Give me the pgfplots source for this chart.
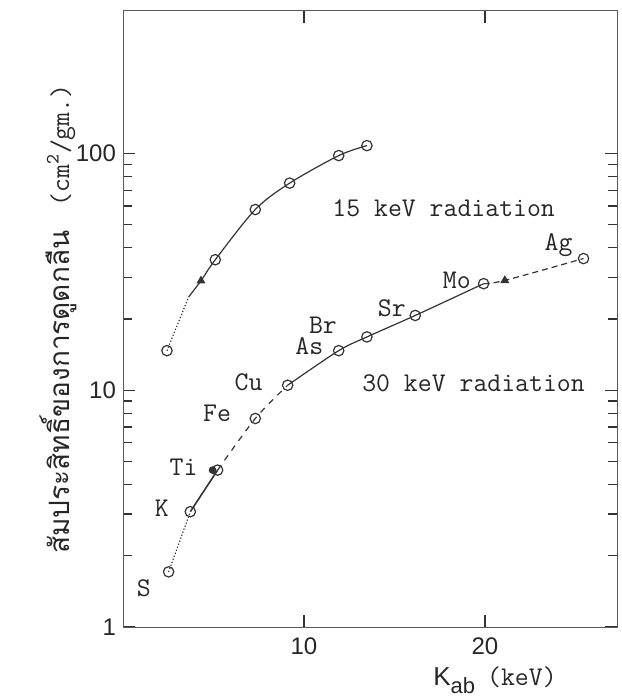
\documentclass[border=0pt]{standalone}
\usepackage{pgfplots}
\pgfplotsset{compat=1.18}
\usepackage{fontspec}
\setsansfont{Liberation Sans}
\newfontfamily\thaifont[Script=Thai]{Loma}
\newcommand\lbl{\ttfamily\fontsize{13.5}{14}\selectfont}

\begin{document}
\begin{tikzpicture}
\begin{axis}[
    scale only axis,
    width=247pt, height=308pt,
    ymode=log,
    xmin=0, xmax=27.3, ymin=1, ymax=400,
    xtick={10,20}, xticklabels={10,20},
    ytick={1,10,100}, yticklabels={1,10,100},
    minor xtick={},
    tick align=inside,
    major tick length=6pt, minor tick length=4.5pt,
    tick style={black!80, line width=0.6pt},
    ticklabel style={font=\sffamily\fontsize{12}{13}\selectfont, text=black!85},
    xticklabel style={yshift=-2pt},
    axis line style={line width=0.5pt, black!65},
    clip=false,
    every axis plot/.append style={black!80, line width=0.6pt},
]
% 15 keV radiation
\addplot[densely dotted, smooth] coordinates {(2.43,14.7) (3.63,24.8)};
\addplot[smooth, tension=0.5] coordinates {(3.63,24.8) (4.31,29) (5.10,35.6) (7.31,58) (9.21,75) (11.92,98) (13.48,108)};
\addplot[only marks, mark=o, mark size=2.6pt] coordinates {(2.43,14.7) (5.10,35.6) (7.31,58) (9.21,75) (11.92,98) (13.48,108)};
\addplot[only marks, mark=triangle*, mark size=2pt] coordinates {(4.31,29)};

% 30 keV radiation
\addplot[densely dotted, smooth] coordinates {(2.52,1.71) (3.72,3.07)};
\addplot[smooth, line width=0.8pt] coordinates {(3.72,3.07) (5.23,4.6)};
\addplot[dashed, smooth] coordinates {(5.23,4.6) (7.31,7.6) (9.1,10.5)};
\addplot[smooth, tension=0.5] coordinates {(9.1,10.5) (11.92,14.7) (13.48,16.8) (16.15,20.7) (19.93,28.2)};
\addplot[densely dashed, smooth] coordinates {(19.93,28.2) (21.1,29.1) (25.45,36)};
\addplot[only marks, mark=o, mark size=2.6pt] coordinates {(2.52,1.71) (3.72,3.07) (5.23,4.6) (7.31,7.6) (9.1,10.5) (11.92,14.7) (13.48,16.8) (16.15,20.7) (19.93,28.2) (25.45,36)};
\addplot[only marks, mark=*, mark size=1.6pt] coordinates {(4.95,4.6)};
\addplot[only marks, mark=triangle*, mark size=2pt] coordinates {(21.1,29.1)};

% element labels
\node[font=\lbl, text=black!85] at (axis cs:1.15,1.46) {S};
\node[font=\lbl, text=black!85] at (axis cs:2.15,3.18) {K};
\node[font=\lbl, text=black!85] at (axis cs:3.35,4.75) {Ti};
\node[font=\lbl, text=black!85] at (axis cs:5.2,8.0) {Fe};
\node[font=\lbl, text=black!85] at (axis cs:6.94,10.8) {Cu};
\node[font=\lbl, text=black!85] at (axis cs:10.3,15.3) {As};
\node[font=\lbl, text=black!85] at (axis cs:11.05,18.9) {Br};
\node[font=\lbl, text=black!85] at (axis cs:14.86,22.1) {Sr};
\node[font=\lbl, text=black!85] at (axis cs:18.45,29.1) {Mo};
\node[font=\lbl, text=black!85] at (axis cs:24.07,40.9) {Ag};
\node[font=\lbl, text=black!85] at (axis cs:17.72,59) {15 keV radiation};
\node[font=\lbl, text=black!85] at (axis cs:19.37,10.7) {30 keV radiation};
\end{axis}
% axis titles
\node[rotate=90, text=black!85] at (-32.5pt,154pt)
  {\thaifont\fontsize{14}{15}\selectfont สัมประสิทธิ์ของการดูดกลืน\hspace{12pt}{\lbl (cm\textsuperscript{2}/gm.)}};
\node[text=black!85] at (186pt,-26.5pt)
  {\sffamily\fontsize{13}{14}\selectfont K\raisebox{-0.55ex}{\fontsize{11}{12}\selectfont ab}\hspace{6pt}{\lbl (keV)}};
\pgfresetboundingbox
\useasboundingbox (-61.5pt,-36.5pt) rectangle (249pt,313.5pt);
\end{tikzpicture}
\end{document}
